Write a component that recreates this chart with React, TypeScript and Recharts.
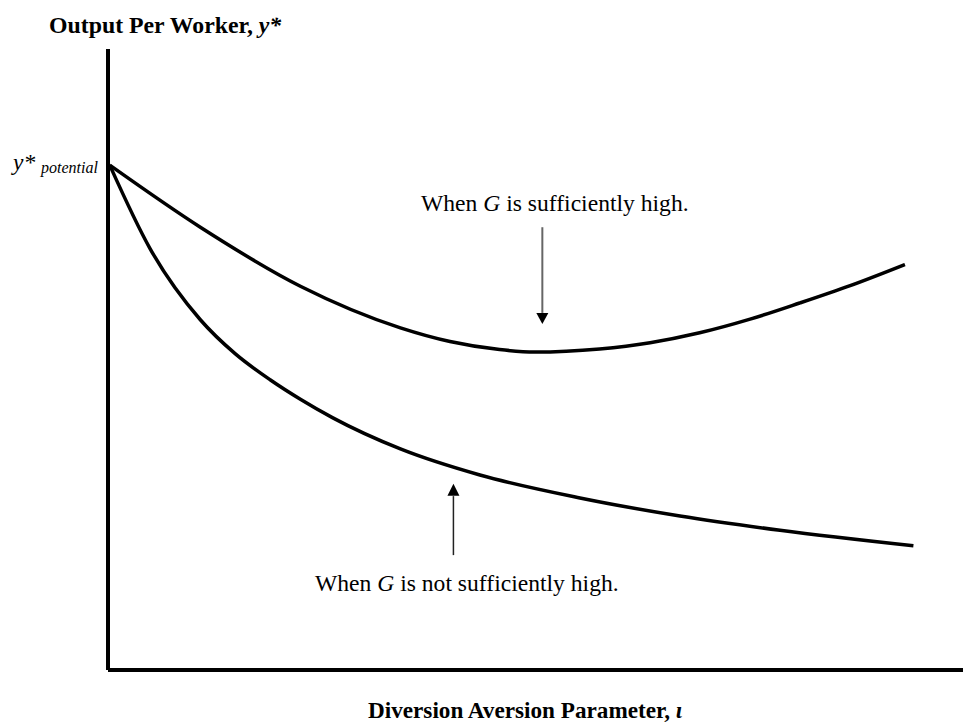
import React from "react";
import { LineChart, Line, XAxis, YAxis, ReferenceLine, ReferenceDot } from "recharts";

// iota (x) in arbitrary units 0..10, output per worker (y) in arbitrary units 0..10
const highG = [
  { x: 0.02, y: 8.13 },
  { x: 1.08, y: 7.13 },
  { x: 2.25, y: 6.18 },
  { x: 3.42, y: 5.51 },
  { x: 4.0, y: 5.29 },
  { x: 4.58, y: 5.16 },
  { x: 4.99, y: 5.12 },
  { x: 5.75, y: 5.17 },
  { x: 6.34, y: 5.27 },
  { x: 6.92, y: 5.43 },
  { x: 7.51, y: 5.65 },
  { x: 8.09, y: 5.91 },
  { x: 8.68, y: 6.19 },
  { x: 9.32, y: 6.53 },
];

const lowG = [
  { x: 0.02, y: 8.13 },
  { x: 0.49, y: 6.79 },
  { x: 1.08, y: 5.64 },
  { x: 1.49, y: 5.09 },
  { x: 1.9, y: 4.67 },
  { x: 2.25, y: 4.36 },
  { x: 2.63, y: 4.06 },
  { x: 3.42, y: 3.56 },
  { x: 4.35, y: 3.14 },
  { x: 5.52, y: 2.77 },
  { x: 6.69, y: 2.48 },
  { x: 7.86, y: 2.25 },
  { x: 9.42, y: 2.0 },
];

// annotation arrows: shaft start, shaft end, arrow tip
const highArrow = { x: 5.08, from: 7.13, to: 5.75, tip: 5.57 };
const lowArrow = { x: 4.04, from: 1.85, to: 2.8, tip: 3.0 };

const serif = "'Liberation Serif', 'Times New Roman', Times, serif";

const downHead = (props: any) => (
  <path d={`M${props.cx - 6},${props.cy - 11} L${props.cx + 6},${props.cy - 11} L${props.cx},${props.cy} Z`} fill="#000" />
);
const upHead = (props: any) => (
  <path d={`M${props.cx - 6},${props.cy + 12} L${props.cx + 6},${props.cy + 12} L${props.cx},${props.cy} Z`} fill="#000" />
);

export default function App() {
  return (
    <div style={{ position: "absolute", left: 0, top: 0, width: 965, height: 725, background: "#fff" }}>
      <LineChart width={965} height={725} margin={{ top: 49, right: 2, bottom: 55, left: 108 }}>
        <XAxis type="number" dataKey="x" domain={[0, 10]} hide height={0} />
        <YAxis type="number" domain={[0, 10]} hide width={0} />
        {/* axes drawn as thick lines at the origin */}
        <ReferenceLine x={0} stroke="#000" strokeWidth={4} />
        <ReferenceLine y={0} stroke="#000" strokeWidth={4} />
        <Line data={highG} dataKey="y" type="monotone" stroke="#000" strokeWidth={3.5} dot={false} isAnimationActive={false} />
        <Line data={lowG} dataKey="y" type="monotone" stroke="#000" strokeWidth={3.5} dot={false} isAnimationActive={false} />
        <ReferenceLine
          segment={[
            { x: highArrow.x, y: highArrow.from },
            { x: highArrow.x, y: highArrow.to },
          ]}
          stroke="#666"
          strokeWidth={2}
        />
        <ReferenceDot x={highArrow.x} y={highArrow.tip} shape={downHead} />
        <ReferenceLine
          segment={[
            { x: lowArrow.x, y: lowArrow.from },
            { x: lowArrow.x, y: lowArrow.to },
          ]}
          stroke="#222"
          strokeWidth={1.5}
        />
        <ReferenceDot x={lowArrow.x} y={lowArrow.tip} shape={upHead} />
      </LineChart>
      <svg width={965} height={725} style={{ position: "absolute", left: 0, top: 0, pointerEvents: "none" }}>
        <g fontFamily={serif} fill="#000">
          <text x={49} y={33} fontSize={23.8} fontWeight="bold">
            Output Per Worker, <tspan fontStyle="italic">y*</tspan>
          </text>
          <text x={13} y={170} fontSize={23.5} fontStyle="italic">
            y*
          </text>
          <text x={41} y={173} fontSize={16} fontStyle="italic">
            potential
          </text>
          <text x={421} y={211} fontSize={23.6}>
            When <tspan fontStyle="italic">G</tspan> is sufficiently high.
          </text>
          <text x={315} y={591} fontSize={23.6}>
            When <tspan fontStyle="italic">G</tspan> is not sufficiently high.
          </text>
          <text x={368} y={718} fontSize={23.2} fontWeight="bold">
            Diversion Aversion Parameter, <tspan fontStyle="italic">ι</tspan>
          </text>
        </g>
      </svg>
    </div>
  );
}
